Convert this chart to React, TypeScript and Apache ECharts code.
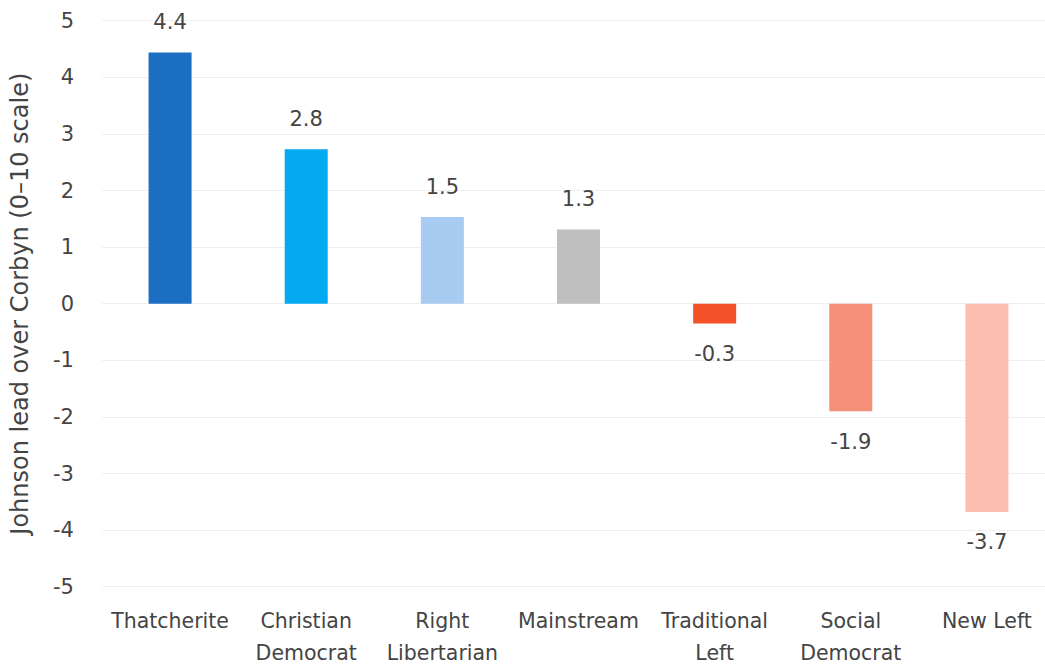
import React, { useEffect, useRef } from "react";
import * as echarts from "echarts";

const categories = [
  "Thatcherite",
  "Christian\nDemocrat",
  "Right\nLibertarian",
  "Mainstream",
  "Traditional\nLeft",
  "Social\nDemocrat",
  "New Left",
];
const values = [4.44, 2.73, 1.53, 1.31, -0.35, -1.9, -3.68];
const valueLabels = ["4.4", "2.8", "1.5", "1.3", "-0.3", "-1.9", "-3.7"];
const colors = ["#1B6EC2", "#03A9F1", "#A8CBF2", "#BFBFBF", "#F4502A", "#F58F78", "#FBBDB0"];
const yAxisName = "Johnson lead over Corbyn (0\u201310 scale)";

const FONT = "'DejaVu Sans', sans-serif";
const TXT = "#444444";

export default function App() {
  const ref = useRef<HTMLDivElement>(null);
  useEffect(() => {
    if (!ref.current) return;
    const chart = echarts.init(ref.current, undefined, { renderer: "svg" });
    chart.setOption({
      animation: false,
      textStyle: { fontFamily: FONT },
      grid: {
        left: 102,
        right: 1,
        top: 20.7,
        bottom: 77.3,
        containLabel: false,
        outerBoundsMode: "none",
      },
      xAxis: {
        type: "category",
        data: categories,
        axisLine: { show: false },
        axisTick: { show: false },
        axisLabel: {
          color: TXT,
          fontSize: 20.5,
          fontFamily: FONT,
          lineHeight: 32,
          margin: 18,
          interval: 0,
        },
      },
      yAxis: {
        type: "value",
        min: -5,
        max: 5,
        interval: 1,
        name: yAxisName,
        nameLocation: "middle",
        nameGap: 70,
        nameTextStyle: { color: TXT, fontSize: 24, fontFamily: FONT },
        axisLine: { show: false },
        axisTick: { show: false },
        axisLabel: { color: TXT, fontSize: 21, fontFamily: FONT, margin: 28 },
        splitLine: { lineStyle: { color: "#EFEFEF", width: 1 } },
      },
      series: [
        {
          type: "bar",
          barWidth: 43,
          data: values.map((v, i) => ({
            value: v,
            itemStyle: { color: colors[i] },
            label: {
              show: true,
              position: v >= 0 ? "top" : "bottom",
              distance: 20,
              formatter: () => valueLabels[i],
              color: TXT,
              fontSize: 21,
              fontFamily: FONT,
            },
          })),
        },
      ],
    });
    return () => chart.dispose();
  }, []);
  return (
    <div style={{ position: "fixed", left: 0, top: 0, width: 1045, height: 664, overflow: "hidden", background: "#fff" }}>
      <div ref={ref} style={{ width: 1056, height: 664 }} />
    </div>
  );
}
